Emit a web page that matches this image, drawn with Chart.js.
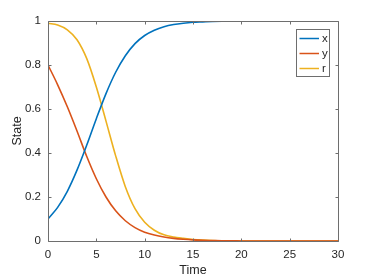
<!DOCTYPE html>
<html>
<head>
<meta charset="utf-8">
<script src="https://cdn.jsdelivr.net/npm/chart.js@4/dist/chart.umd.min.js"></script>
<style>
  html, body { margin: 0; padding: 0; background: #fff; }
  #wrap { width: 374px; height: 280px; }
</style>
</head>
<body>
<div id="wrap"><canvas id="myChart" width="374" height="280"></canvas></div>
<script>
// values, one per time step
const time = [0, 1, 2, 3, 4, 5, 6, 7, 8, 9, 10, 11, 12, 13, 14, 15, 16, 17, 18, 19, 20, 21, 22, 23, 24, 25, 26, 27, 28, 29, 30];
const xVals = [0.10, 0.153, 0.226, 0.322, 0.435, 0.556, 0.670, 0.767, 0.842, 0.897, 0.934, 0.958, 0.974, 0.984, 0.990, 0.994, 0.996, 0.998, 0.999, 0.999, 1, 1, 1, 1, 1, 1, 1, 1, 1, 1, 1];
const yVals = [0.80, 0.71, 0.61, 0.50, 0.385, 0.283, 0.200, 0.137, 0.092, 0.061, 0.040, 0.027, 0.018, 0.012, 0.008, 0.005, 0.003, 0.002, 0.001, 0.001, 0, 0, 0, 0, 0, 0, 0, 0, 0, 0, 0];
const rVals = [0.99, 0.982, 0.960, 0.915, 0.830, 0.700, 0.545, 0.387, 0.247, 0.147, 0.085, 0.049, 0.028, 0.018, 0.012, 0.007, 0.004, 0.002, 0.001, 0.001, 0, 0, 0, 0, 0, 0, 0, 0, 0, 0, 0];
const seriesNames = ['x', 'y', 'r'];
const seriesColors = ['#0072BD', '#D95319', '#EDB120'];
const xTicks = [0, 5, 10, 15, 20, 25, 30];
const yTicks = [0, 0.2, 0.4, 0.6, 0.8, 1];

const axisColor = '#262626';
const fontFamily = '"Liberation Sans", Arial, Helvetica, sans-serif';

const toPoints = vals => time.map((t, i) => ({ x: t, y: vals[i] }));

// box round the axes with inward ticks, MATLAB style
const boxPlugin = {
  id: 'box',
  afterDatasetsDraw(chart) {
    const { ctx, chartArea: a, scales } = chart;
    ctx.save();
    ctx.strokeStyle = '#6e6e6e';
    ctx.lineWidth = 1;
    ctx.beginPath();
    const L = Math.round(a.left) + 0.5, R = Math.round(a.right) + 0.5;
    const T = Math.round(a.top) + 0.5, B = Math.round(a.bottom) + 0.5;
    ctx.rect(L, T, R - L, B - T);
    const len = 3;
    xTicks.forEach(v => {
      const px = Math.round(scales.x.getPixelForValue(v)) + 0.5;
      ctx.moveTo(px, B); ctx.lineTo(px, B - len);
      ctx.moveTo(px, T); ctx.lineTo(px, T + len);
    });
    yTicks.forEach(v => {
      const py = Math.round(scales.y.getPixelForValue(v)) + 0.5;
      ctx.moveTo(L, py); ctx.lineTo(L + len, py);
      ctx.moveTo(R, py); ctx.lineTo(R - len, py);
    });
    ctx.stroke();

    // legend box in the upper right
    const lx = 296.5, ly = 29.5, lw = 33, lh = 47;
    ctx.fillStyle = '#fff';
    ctx.fillRect(lx, ly, lw, lh);
    ctx.strokeStyle = '#6e6e6e';
    ctx.strokeRect(lx, ly, lw, lh);
    ctx.font = '11.5px ' + fontFamily;
    ctx.textBaseline = 'middle';
    ctx.textAlign = 'left';
    chart.data.datasets.forEach((ds, i) => {
      const yy = 38.5 + i * 15;
      ctx.strokeStyle = ds.borderColor;
      ctx.lineWidth = 1.5;
      ctx.beginPath();
      ctx.moveTo(299.5, yy); ctx.lineTo(319, yy);
      ctx.stroke();
      ctx.fillStyle = axisColor;
      ctx.fillText(ds.label, 322, yy);
    });
    ctx.restore();
  }
};

new Chart(document.getElementById('myChart').getContext('2d'), {
  type: 'line',
  data: {
    datasets: [xVals, yVals, rVals].map((vals, i) => ({
      label: seriesNames[i],
      data: toPoints(vals),
      borderColor: seriesColors[i],
      backgroundColor: seriesColors[i],
      borderWidth: 1.6,
      pointRadius: 0,
      cubicInterpolationMode: 'monotone',
      fill: false
    }))
  },
  options: {
    responsive: false,
    animation: false,
    layout: { padding: { left: 0, right: 36, top: 21, bottom: 0 } },
    plugins: { legend: { display: false }, tooltip: { enabled: false } },
    scales: {
      x: {
        type: 'linear',
        min: 0,
        max: 30,
        grid: { display: false, drawTicks: false },
        border: { display: false },
        afterBuildTicks: s => { s.ticks = xTicks.map(v => ({ value: v })); },
        afterFit: s => { s.height = 39; },
        ticks: { color: axisColor, padding: 7, maxRotation: 0, font: { family: fontFamily, size: 11.5 },
                 callback: v => String(v) },
        title: { display: true, text: 'Time', color: axisColor, padding: { top: 0, bottom: 2 }, font: { family: fontFamily, size: 12.5 } }
      },
      y: {
        min: 0,
        max: 1,
        grid: { display: false, drawTicks: false },
        border: { display: false },
        afterBuildTicks: s => { s.ticks = yTicks.map(v => ({ value: v })); },
        afterFit: s => { s.width = 48; },
        ticks: { color: axisColor, padding: 7, font: { family: fontFamily, size: 11.5 },
                 callback: v => String(+v.toFixed(1)) },
        title: { display: true, text: 'State', color: axisColor, padding: { top: 10, bottom: 0 }, font: { family: fontFamily, size: 12.5 } }
      }
    }
  },
  plugins: [boxPlugin]
});
</script>
</body>
</html>
